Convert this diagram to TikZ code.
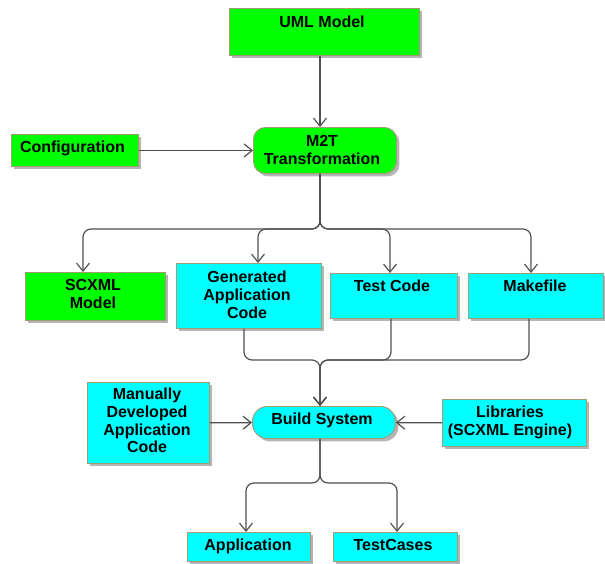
\documentclass[tikz,border=0pt]{standalone}
\usepackage{fontspec}
\setmainfont{Liberation Sans}
\usetikzlibrary{arrows.meta,shadows}
\definecolor{boxgreen}{HTML}{00FF00}
\definecolor{boxcyan}{HTML}{00FFFF}
\definecolor{boxedge}{HTML}{A39B72}
\definecolor{wirecol}{HTML}{505050}
\definecolor{shade}{HTML}{B4B4B4}
\begin{document}
\begin{tikzpicture}[x=1pt,y=-1pt,
  box/.style={draw=boxedge, line width=0.9pt, inner sep=0pt, anchor=north west,
    drop shadow={shadow xshift=3pt, shadow yshift=-3pt, fill=shade, opacity=1}},
  gbox/.style={box, fill=boxgreen},
  cbox/.style={box, fill=boxcyan},
  lbl/.style={anchor=north, inner sep=0pt, align=center,
    font=\fontsize{16}{17.7}\selectfont\bfseries},
  wire/.style={draw=wirecol, line width=1.2pt},
  arr/.style={wire, -{Straight Barb[length=8pt,width=13pt]}},
  elbow/.style={rounded corners=8pt}]
\useasboundingbox (0,0) rectangle (605,563);
% boxes
\node[gbox, minimum width=190pt, minimum height=47pt] (uml) at (229,8) {};
\node[gbox, rounded corners=12pt, minimum width=143pt, minimum height=46pt] (m2t) at (253,127) {};
\node[gbox, minimum width=127pt, minimum height=32pt] (config) at (11,134) {};
\node[gbox, minimum width=140pt, minimum height=48pt] (scxml) at (25,272) {};
\node[cbox, minimum width=145pt, minimum height=65pt] (gen) at (176,263) {};
\node[cbox, minimum width=127pt, minimum height=45pt] (test) at (330,273) {};
\node[cbox, minimum width=135pt, minimum height=45pt] (make) at (468,273) {};
\node[cbox, rounded corners=15pt, minimum width=143pt, minimum height=32pt] (build) at (252,406) {};
\node[cbox, minimum width=122pt, minimum height=81pt] (manual) at (87,382) {};
\node[cbox, minimum width=144pt, minimum height=47pt] (lib) at (442,399) {};
\node[cbox, minimum width=123pt, minimum height=29pt] (app) at (187,532) {};
\node[cbox, minimum width=124pt, minimum height=29pt] (tc) at (333,532) {};
% labels
\node[lbl] (uml-t) at (322,16) {UML Model};
\node[lbl] (m2t-t) at (322,135) {M2T\\Transformation};
\node[lbl] (config-t) at (72.5,141) {Configuration};
\node[lbl] (scxml-t) at (93,279) {SCXML\\Model};
\node[lbl] (gen-t) at (247,271) {Generated\\Application\\Code};
\node[lbl] (test-t) at (392,280) {Test Code};
\node[lbl] (make-t) at (535,280) {Makefile};
\node[lbl] (build-t) at (322,413) {Build System};
\node[lbl] (manual-t) at (147,388) {Manually\\Developed\\Application\\Code};
\node[lbl] (lib-t) at (510,406) {Libraries\\(SCXML Engine)};
\node[lbl] (app-t) at (248,539) {Application};
\node[lbl] (tc-t) at (393,539) {TestCases};
% helper coordinates
\coordinate (t1) at (320,0);
\coordinate (b1) at (0,229);
\coordinate (b2) at (0,360);
\coordinate (b3) at (0,483);
\coordinate (xs) at (83,0);
\coordinate (xg) at (258,0);
\coordinate (xt) at (390,0);
\coordinate (xm) at (531,0);
\coordinate (xgb) at (244,0);
\coordinate (xtb) at (391,0);
\coordinate (xmb) at (529,0);
\coordinate (xa) at (246,0);
\coordinate (xc) at (397,0);
% connectors
\draw[arr] (uml.south -| t1) -- (m2t.north -| t1);
\draw[arr] (config) -- (m2t);
\draw[arr, elbow] (m2t.south -| t1) -- (t1 |- b1) -- (xs |- b1) -- (scxml.north -| xs);
\draw[arr, elbow] (m2t.south -| t1) -- (t1 |- b1) -- (xg |- b1) -- (gen.north -| xg);
\draw[arr, elbow] (m2t.south -| t1) -- (t1 |- b1) -- (xt |- b1) -- (test.north -| xt);
\draw[arr, elbow] (m2t.south -| t1) -- (t1 |- b1) -- (xm |- b1) -- (make.north -| xm);
\draw[arr, elbow] (gen.south -| xgb) -- (xgb |- b2) -- (t1 |- b2) -- (build.north -| t1);
\draw[arr, elbow] (test.south -| xtb) -- (xtb |- b2) -- (t1 |- b2) -- (build.north -| t1);
\draw[arr, elbow] (make.south -| xmb) -- (xmb |- b2) -- (t1 |- b2) -- (build.north -| t1);
\draw[arr] (manual) -- (build);
\draw[arr] (lib) -- (build);
\draw[arr, elbow] (build.south -| t1) -- (t1 |- b3) -- (xa |- b3) -- (app.north -| xa);
\draw[arr, elbow] (build.south -| t1) -- (t1 |- b3) -- (xc |- b3) -- (tc.north -| xc);
\end{tikzpicture}
\end{document}
